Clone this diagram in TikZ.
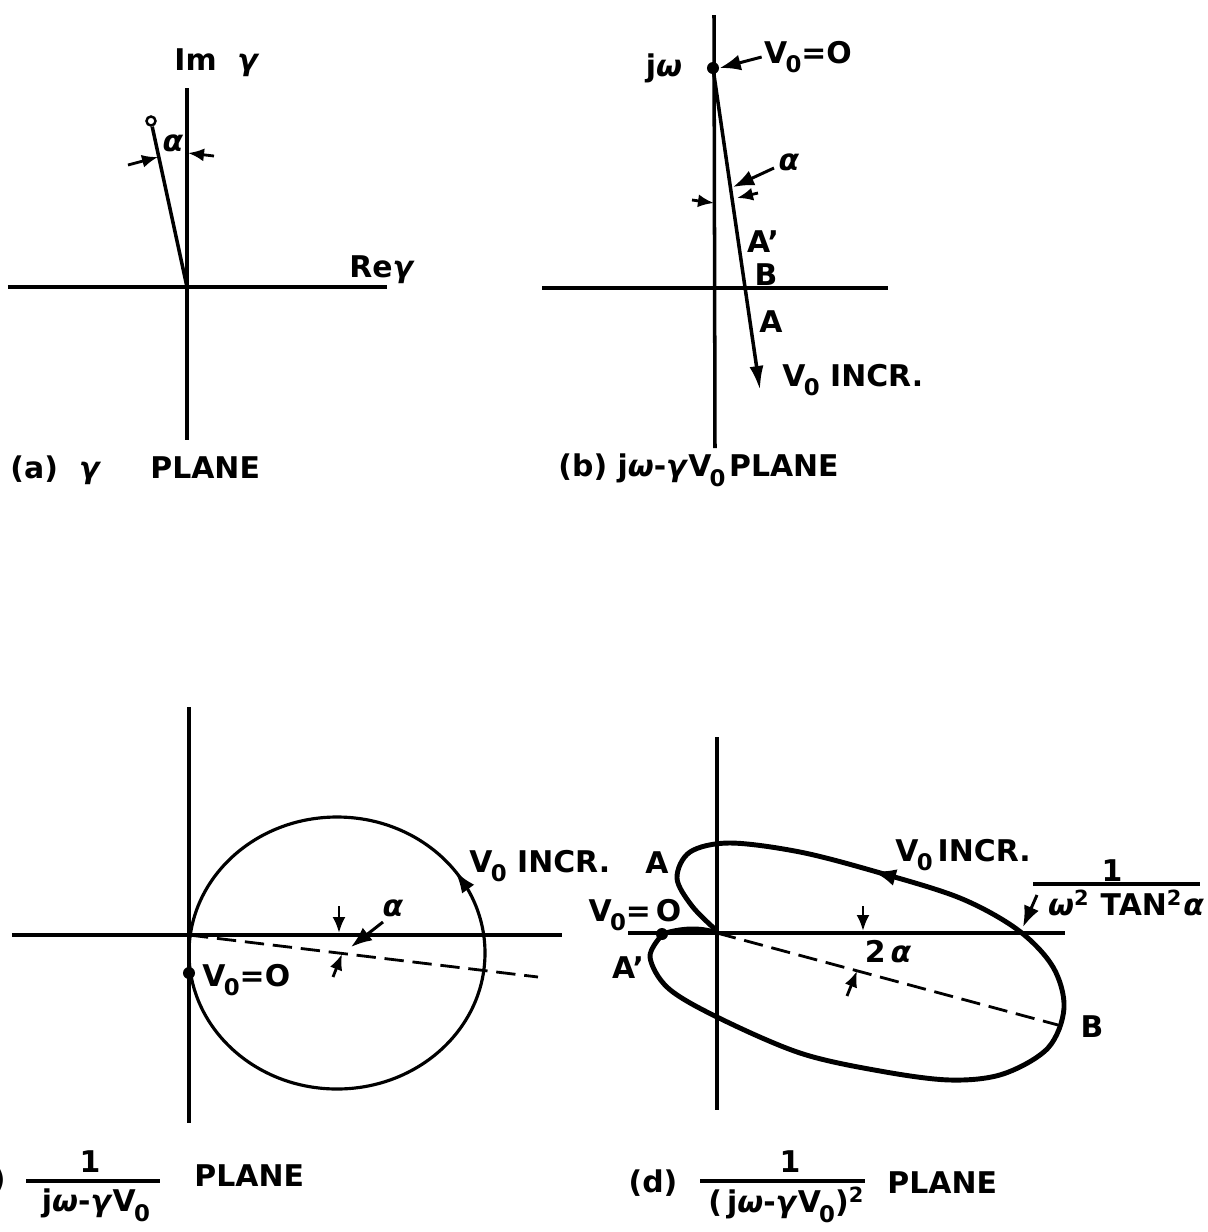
\documentclass[tikz,border=0pt]{standalone}
\usepackage{fontspec}
\setmainfont{DejaVu Sans}
\usetikzlibrary{arrows.meta,calc,positioning}

\newcommand{\Vz}{V\kern-0.5pt\raisebox{-0.6ex}{\fontsize{6.5}{7}\selectfont 0}}
\newcommand{\gk}[1]{\textit{#1}}

\begin{document}
\begin{tikzpicture}[x=0.01cm,y=-0.01cm,>=Latex,
  font=\fontsize{8.5}{10}\selectfont\bfseries,
  axis/.style={line width=1pt},
  locus/.style={line width=1.4pt},
  dashline/.style={line width=0.8pt,dash pattern=on 5.5pt off 2.5pt},
  dimarrow/.style={line width=0.8pt,-{Latex[length=1.6mm,width=1.3mm]}},
  leadarrow/.style={line width=0.85pt,-{Latex[length=2.1mm,width=1.6mm]}},
  lbl/.style={inner sep=0.5pt},
  dotnode/.style={circle,fill,inner sep=0pt,minimum size=1.2mm}]

\useasboundingbox (0,0) rectangle (1208,1232);

% (a) gamma plane
\coordinate (Oa) at (187,287);
\draw[axis] (8,287) -- (387,287);
\draw[axis] (187,88) -- (187,440);
\node[lbl] (ima) at (217,63) {Im\ \ \gk{γ}};
\node[lbl] (rea) at (382,270) {Re\gk{γ}};
\node[draw,circle,line width=0.7pt,inner sep=0pt,minimum size=0.9mm] (tipa) at (151,121) {};
\draw[axis] (tipa) -- (Oa);
\node[lbl] (alfa) at (173,143) {\gk{α}};
\coordinate (la1) at (128,165); \coordinate (la2) at (158,157);
\coordinate (ra1) at (214,156); \coordinate (ra2) at (188,153);
\draw[dimarrow] (la1) -- (la2);
\draw[dimarrow] (ra1) -- (ra2);
\node[lbl,anchor=west] (capa) at (8,470) {(a)\hspace{6pt}\gk{γ}\hspace{14pt}PLANE};

% (b) j omega - gamma V0 plane
\coordinate (Ob) at (715,288);
\draw[axis] (542,288) -- (888,288);
\draw[axis] (714,15) -- (715,448);
\node[dotnode] (jwb) at (713,68) {};
\node[lbl] (jwl) at (664,68) {j\gk{ω}};
\node[lbl] (vzb) at (808,57) {\Vz=O};
\coordinate (incb) at (760,390);
\draw[axis,-{Latex[length=2.4mm,width=1.4mm]}] (jwb.center) -- (incb);
\node[lbl,anchor=west] (incbl) at (780,380) {\Vz\ INCR.};
\draw[leadarrow] (vzb.west) -- (jwb.east);
\node[lbl] (alfb) at (789,162) {\gk{α}};
\coordinate (ab1) at (774,168); \coordinate (ab2) at (733,187);
\draw[leadarrow] (ab1) -- (ab2);
\coordinate (lb1) at (692,200); \coordinate (lb2) at (714,203);
\coordinate (rb1) at (758,193); \coordinate (rb2) at (737,198);
\draw[dimarrow] (lb1) -- (lb2);
\draw[dimarrow] (rb1) -- (rb2);
\node[lbl] (Apb) at (763,242) {A'};
\node[lbl] (Bb) at (766,275) {B};
\node[lbl] (Ab) at (771,322) {A};
\node[lbl,anchor=west] (capb) at (556,470) {(b) j\gk{ω}-\gk{γ}\Vz\kern1pt PLANE};

% (c) 1/(j omega - gamma V0) plane
\coordinate (Oc) at (189,935);
\coordinate (Cc) at (337,953);
\draw[axis] (12,935) -- (562,935);
\draw[axis] (189,707) -- (189,1123);
\draw[line width=0.9pt] (Cc) ellipse [x radius=148, y radius=136];
\draw[line width=0.9pt,-{Latex[length=2.2mm,width=1.5mm]}]
  ($(Cc)+(-30:148 and 136)$) -- ($(Cc)+(-37:148 and 136)$);
\node[dotnode] (vzc) at (189,973) {};
\node[lbl,anchor=west] (vzcl) at (200,980) {\Vz=O};
\coordinate (dc) at (538,977);
\draw[dashline] (Oc) -- (dc);
\coordinate (tc1) at (339,906); \coordinate (tc2) at (339,933);
\coordinate (bc1) at (333,977); \coordinate (bc2) at (342,954);
\draw[dimarrow] (tc1) -- (tc2);
\draw[dimarrow] (bc1) -- (bc2);
\node[lbl] (alfc) at (393,908) {\gk{α}};
\coordinate (ac1) at (383,922); \coordinate (ac2) at (351,947);
\draw[leadarrow] (ac1) -- (ac2);
\node[lbl,anchor=west] (inccl) at (467,866) {\Vz\ INCR.};
\node[lbl,anchor=east] (capc) at (8,1180) {(c)};
\node[lbl] (onec) at (90,1162) {1};
\node[lbl] (denc) at (96,1205) {j\gk{ω}-\gk{γ}\Vz};
\draw[line width=0.9pt] (26,1181) -- (160,1181);
\node[lbl,anchor=west] (planec) at (192,1176) {PLANE};

% (d) 1/(j omega - gamma V0)^2 plane
\coordinate (Od) at (717,933);
\draw[axis] (628,933) -- (1065,933);
\draw[axis] (717,737) -- (717,1110);
\draw[locus] plot[smooth,tension=0.55] coordinates {
  (717,931) (692,906) (677,878) (690,852) (730,843) (800,852)
  (877,872) (960,898) (1018,930) (1053,967) (1064,1008) (1048,1048)
  (1003,1074) (950,1080) (880,1071) (800,1053) (717,1017) (668,988)
  (650,957) (662,935)};
\node[dotnode] (vzd) at (662,934) {};
\draw[locus] (vzd.center) .. controls (682,928) and (700,927) .. (Od);
\draw[locus,-{Latex[length=2.4mm,width=1.7mm]}] (890,876) -- (872,871);
\coordinate (dd) at (1058,1025);
\draw[dashline] (Od) -- (dd);
\coordinate (td1) at (863,906); \coordinate (td2) at (863,931);
\coordinate (bd1) at (847,996); \coordinate (bd2) at (857,971);
\draw[dimarrow] (td1) -- (td2);
\draw[dimarrow] (bd1) -- (bd2);
\node[lbl] (twoad) at (888,952) {2\,\gk{α}};
\node[lbl] (Ad) at (657,863) {A};
\node[lbl] (vzdl) at (635,915) {\Vz=\,O};
\node[lbl] (Apd) at (628,968) {A'};
\node[lbl] (Bd) at (1092,1027) {B};
\node[lbl,anchor=west] (incdl) at (893,855) {\Vz\,INCR.};
\node[lbl] (oned) at (1112,871) {1};
\node[lbl] (dend) at (1126,903) {\gk{ω}\textsuperscript{2} TAN\textsuperscript{2}\gk{α}};
\draw[line width=0.9pt] (1033,884) -- (1200,884);
\coordinate (fd1) at (1037,895); \coordinate (fd2) at (1023,927);
\draw[leadarrow] (fd1) -- (fd2);
\node[lbl] (capd) at (653,1183) {(d)};
\node[lbl] (oned2) at (790,1162) {1};
\node[lbl,anchor=west] (dendd) at (706,1205) {(\,j\gk{ω}-\gk{γ}\Vz)\textsuperscript{2}};
\draw[line width=0.9pt] (700,1181) -- (865,1181);
\node[lbl,anchor=west] (planed) at (885,1183) {PLANE};
\end{tikzpicture}
\end{document}
